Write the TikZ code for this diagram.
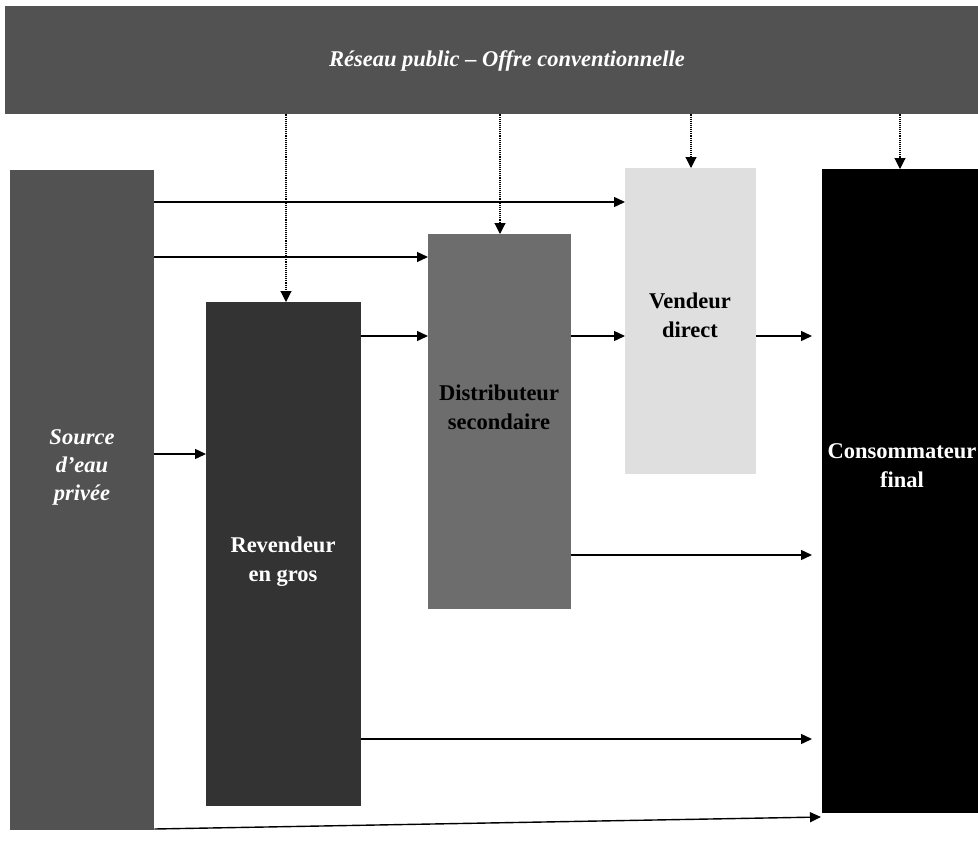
\documentclass[tikz,border=0pt]{standalone}
\usepackage{fontspec}
\setmainfont{Liberation Serif}
\usetikzlibrary{arrows.meta,calc}
\definecolor{barfill}{HTML}{525252}
\definecolor{srcfill}{HTML}{525252}
\definecolor{revfill}{HTML}{333333}
\definecolor{distfill}{HTML}{6D6D6D}
\definecolor{vendfill}{HTML}{DFDFDF}
\definecolor{consfill}{HTML}{000000}
\begin{document}
\begin{tikzpicture}[x=1pt,y=-1pt,
  block/.style={draw=none,rectangle,inner sep=0pt,anchor=north west},
  lbl/.style={align=center,font=\fontsize{22.5}{29}\selectfont\bfseries},
  ilbl/.style={lbl,font=\fontsize{22.5}{28}\selectfont\bfseries\itshape},
  flow/.style={line width=1.4pt,-{Triangle[length=11pt,width=10pt]}},
  feed/.style={line width=1.1pt,densely dotted,-{Triangle[length=11pt,width=11pt]}}]
  \useasboundingbox (0,0) rectangle (978,857);

  % boxes
  \node[block,fill=barfill,minimum width=973pt,minimum height=108pt] (bar) at (5,6) {};
  \node[block,fill=srcfill,minimum width=144pt,minimum height=660pt] (src) at (10,170) {};
  \node[block,fill=revfill,minimum width=155pt,minimum height=504pt] (rev) at (206,302) {};
  \node[block,fill=distfill,minimum width=143pt,minimum height=375pt] (dist) at (428,234) {};
  \node[block,fill=vendfill,minimum width=131pt,minimum height=306pt] (vend) at (625,168) {};
  \node[block,fill=consfill,minimum width=156pt,minimum height=644pt] (cons) at (822,169) {};

  % labels
  \node[ilbl,text=white] (barlbl) at (507,61) {Réseau public – Offre conventionnelle};
  \node[ilbl,text=white] (srclbl) at (82,467) {Source\\d’eau\\privée};
  \node[lbl,text=white] (revlbl) at (283,562) {Revendeur\\en gros};
  \node[lbl,text=black] (distlbl) at (499,407) {Distributeur\\secondaire};
  \node[lbl,text=black] (vendlbl) at (690,315) {Vendeur\\direct};
  \node[lbl,text=white] (conslbl) at (902,466) {Consommateur\\final};

  % supply from the public network
  \draw[feed] (bar.south -| 286,0) -- (rev.north -| 286,0);
  \draw[feed] (bar.south -| 500,0) -- (dist.north -| 500,0);
  \draw[feed] (bar.south -| 691,0) -- (vend.north -| 691,0);
  \draw[feed] (bar.south -| 900,0) -- (cons.north -| 900,0);

  % flows from the private source
  \draw[flow] (src.east |- 0,202) -- (vend.west |- 0,202);
  \draw[flow] (src.east |- 0,257) -- (dist.west |- 0,257);
  \draw[flow] (src.east |- 0,454) -- (rev.west |- 0,454);
  \draw[flow] (src.east |- 0,829) -- ($(cons.west |- 0,817)+(-1,0)$);

  % flows between intermediaries
  \draw[flow] (rev.east |- 0,336) -- (dist.west |- 0,336);
  \draw[flow] (dist.east |- 0,336) -- (vend.west |- 0,336);
  \draw[flow,shorten >=10pt] (vend.east |- 0,336) -- (cons.west |- 0,336);
  \draw[flow,shorten >=10pt] (dist.east |- 0,555) -- (cons.west |- 0,555);
  \draw[flow,shorten >=10pt] (rev.east |- 0,739) -- (cons.west |- 0,739);
\end{tikzpicture}
\end{document}
